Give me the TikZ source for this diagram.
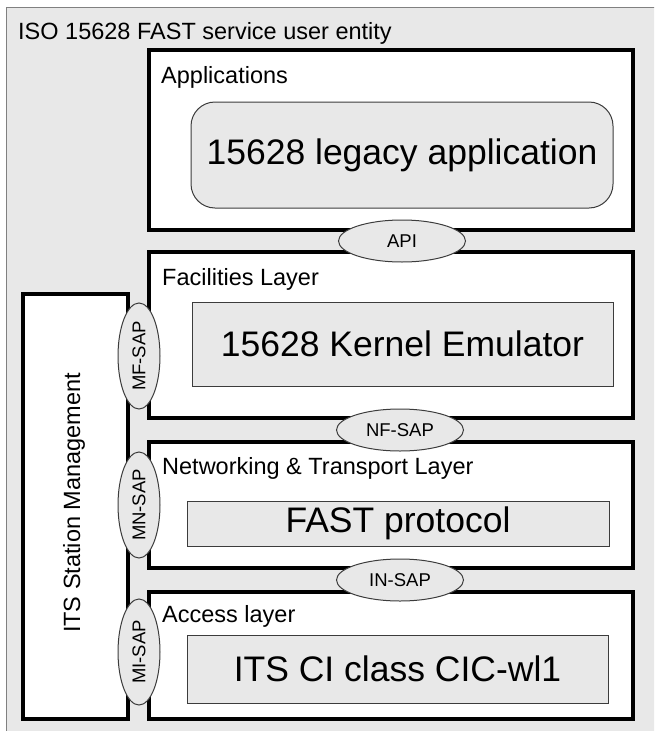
\documentclass[tikz,border=0pt]{standalone}
\usepackage{fontspec}
\setmainfont{Liberation Sans}
\usetikzlibrary{shapes.geometric}
\definecolor{lightfill}{RGB}{232,232,232}
\definecolor{thinline}{RGB}{60,60,60}
\begin{document}
\begin{tikzpicture}[x=1pt,y=-1pt,
  layerbox/.style={draw=black, line width=3.2pt, fill=white, rectangle, inner sep=0pt, outer sep=0pt},
  innerbox/.style={draw=thinline, line width=1pt, fill=lightfill, rectangle, inner sep=0pt, outer sep=0pt, font=\fontsize{35.5}{40}\selectfont},
  sap/.style={draw=thinline, line width=1pt, fill=lightfill, ellipse, inner sep=0pt, outer sep=0pt, minimum width=127pt, minimum height=42pt, font=\fontsize{18.5}{20}\selectfont},
  label/.style={anchor=base west, inner sep=0pt, font=\fontsize{23.5}{28}\selectfont}
]
\useasboundingbox (0,0) rectangle (654,731);
% outer entity
\begin{scope}
\clip (0,0) rectangle (654,731);
\draw[draw=gray, line width=1pt, fill=lightfill] (6,7) rectangle (670,750);
\end{scope}
\node[label] (title) at (18,39) {ISO 15628 FAST service user entity};

% layers
\node[layerbox, minimum width=484pt, minimum height=180pt] (apps) at (391,140) {};
\node[layerbox, minimum width=484pt, minimum height=166pt] (fac) at (391,335) {};
\node[layerbox, minimum width=484pt, minimum height=126pt] (net) at (391,505) {};
\node[layerbox, minimum width=484pt, minimum height=127pt] (acc) at (391,655.5) {};
\node[layerbox, minimum width=105pt, minimum height=425pt] (mgmt) at (75.5,506.5) {};
\node[rotate=90, inner sep=0pt, font=\fontsize{23.5}{28}\selectfont] (mgmtlabel) at (74,503) {ITS Station Management};

\node[label] (appslabel) at (161,83) {Applications};
\node[label] (faclabel) at (162,285) {Facilities Layer};
\node[label] (netlabel) at (162,474) {Networking \& Transport Layer};
\node[label] (acclabel) at (162,622) {Access layer};

% inner boxes
\node[innerbox, rounded corners=24pt, minimum width=422pt, minimum height=106pt] (legacy) at (402,155) {15628 legacy application};
\node[innerbox, minimum width=421pt, minimum height=84pt] (kernel) at (402.5,344) {15628 Kernel Emulator};
\node[innerbox, minimum width=422pt, minimum height=45pt] (fast) at (398,523.5) {FAST protocol};
\node[innerbox, minimum width=421pt, minimum height=68pt] (ci) at (397.5,669) {ITS CI class CIC-wl1};

% SAPs
\node[sap] (api) at (402,241) {API};
\node[sap] (nfsap) at (400,430) {NF-SAP};
\node[sap] (insap) at (400,580) {IN-SAP};
\node[sap, rotate=90, minimum width=106pt] (mfsap) at (139,356) {MF-SAP};
\node[sap, rotate=90, minimum width=106pt] (mnsap) at (139,505) {MN-SAP};
\node[sap, rotate=90, minimum width=106pt] (misap) at (139,652) {MI-SAP};
\end{tikzpicture}
\end{document}
